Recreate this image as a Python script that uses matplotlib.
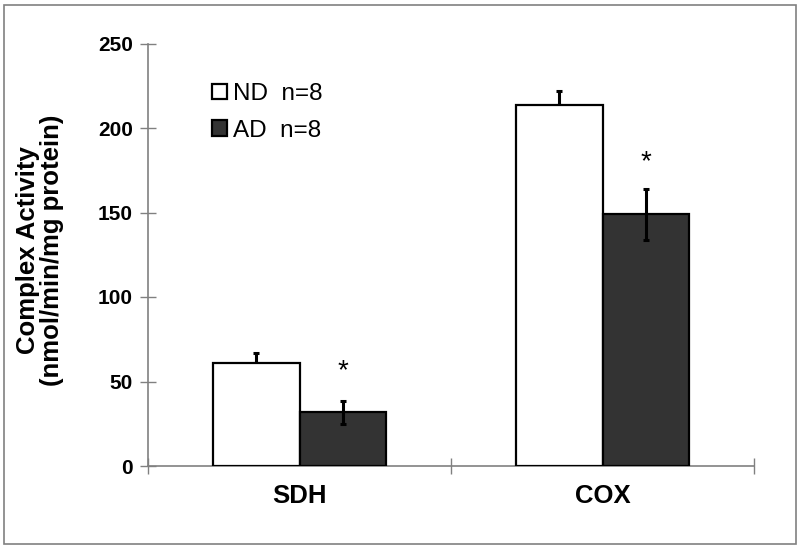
import matplotlib
matplotlib.use("Agg")
import matplotlib.pyplot as plt
from matplotlib.patches import Rectangle
import numpy as np

categories = ["SDH", "COX"]
series_names = ["ND  n=8", "AD  n=8"]
nd_values = [61.1, 213.8]
nd_errors = [5.6, 8.3]
ad_values = [31.8, 148.9]
ad_errors = [6.7, 15.0]
star_y = [59.2, 182.8]
yticks = [0, 50, 100, 150, 200, 250]

plt.rcParams['font.family'] = ['Liberation Sans', 'DejaVu Sans']

fig = plt.figure(figsize=(8.0, 5.48), dpi=100)
ax = fig.add_axes([148/800, 82/548, (754-148)/800, (466-43.5)/548])

x = np.arange(len(categories))
w = 1/3.5
ax.bar(x - w/2, nd_values, width=w, color='white', edgecolor='black', linewidth=1.6, zorder=3, label=series_names[0])
ax.errorbar(x - w/2, nd_values, yerr=[np.zeros(len(nd_errors)), nd_errors], fmt='none', ecolor='black', elinewidth=2.2, capsize=2.5, capthick=2.2, zorder=2)
ax.bar(x + w/2, ad_values, width=w, color='#333333', edgecolor='black', linewidth=1.6, zorder=3, label=series_names[1])
ax.errorbar(x + w/2, ad_values, yerr=ad_errors, fmt='none', ecolor='black', elinewidth=2.2, capsize=2.5, capthick=2.2, zorder=4)

for xi, sy in zip(x + w/2, star_y):
    ax.annotate("*", xy=(xi, sy), xytext=(0, -9), textcoords='offset points',
                ha='center', va='baseline', fontsize=20, color='black')

ax.set_xlim(-0.5, len(categories) - 0.5)
ax.set_ylim(0, 250)
ax.set_yticks(yticks)
ax.set_yticklabels([str(t) for t in yticks], fontsize=15, fontweight='bold')
ax.set_xticks([-0.5, 0.5, 1.5])
ax.set_xticklabels([])
ax.set_xticks(x, minor=True)
ax.set_xticklabels(categories, minor=True, fontsize=18.5, fontweight='bold')
ax.tick_params(axis='x', which='minor', length=0, pad=13)
ax.tick_params(axis='x', which='major', direction='inout', length=12, width=1, color='#808080')
ax.tick_params(axis='y', direction='inout', length=12, width=1, color='#808080', pad=5)

for s in ['top', 'right']:
    ax.spines[s].set_visible(False)
for s in ['left', 'bottom']:
    ax.spines[s].set_color('#808080')
    ax.spines[s].set_linewidth(1.2)

fig.text(40/800, 1 - 250/548, "Complex Activity\n(nmol/min/mg protein)", rotation=90,
         ha='center', va='center', multialignment='center', fontsize=18.5, fontweight='bold',
         linespacing=1.05)

leg = fig.legend(loc='upper left', bbox_to_anchor=(212/800, 1 - 83/548), frameon=False,
                 fontsize=17.5, handlelength=0.6, handleheight=0.6, handletextpad=0.25,
                 borderpad=0, borderaxespad=0, labelspacing=0.6)

fig.patches.append(Rectangle((4/800, 4/548), 792/800, 539/548, transform=fig.transFigure,
                             fill=False, edgecolor='#808080', linewidth=1.2))

fig.savefig("out.png", dpi=100)
